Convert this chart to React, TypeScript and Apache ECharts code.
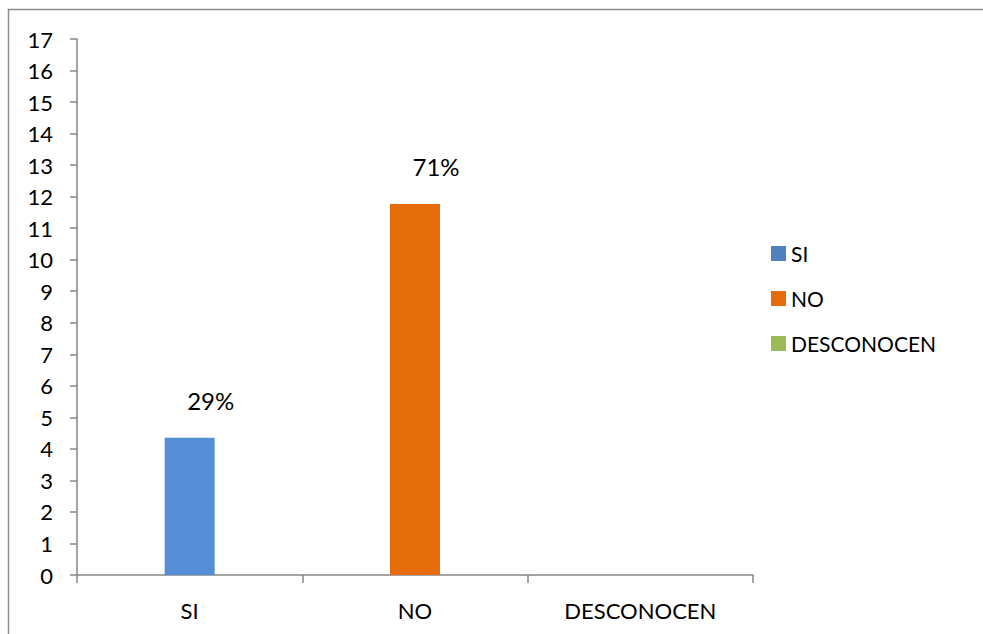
import React, { useEffect, useRef } from "react";
import * as echarts from "echarts";

// Categories and values of the survey answers
const categories = ["SI", "NO", "DESCONOCEN"];
const counts = [4.35, 11.77, 0];
const percentLabels = ["29%", "71%", ""];
const barColors = ["#558ED5", "#E46C0A", "#9BBB59"];
const legendColors = ["#4F81BD", "#E46C0A", "#9BBB59"];

const FONT = "Lato, 'Noto Sans', sans-serif";

export default function App() {
  const ref = useRef<HTMLDivElement>(null);

  useEffect(() => {
    if (!ref.current) return;
    const chart = echarts.init(ref.current, undefined, { renderer: "svg" });

    const series = categories.map((name, i) => ({
      name,
      type: "bar",
      stack: "total",
      barWidth: 50,
      data: categories.map((_, j) => (j === i ? counts[i] : "-")),
      itemStyle: { color: barColors[i] },
      label: {
        show: percentLabels[i] !== "",
        position: "top",
        distance: 5,
        offset: [21, -20],
        formatter: () => percentLabels[i],
        color: "#000",
        fontFamily: FONT,
        fontSize: 24,
      },
    }));

    chart.setOption({
      animation: false,
      backgroundColor: "#fff",
      graphic: [
        {
          type: "rect",
          shape: { x: 8.5, y: 9.5, width: 1100, height: 800 },
          style: { fill: "none", stroke: "#8C8C8C", lineWidth: 1.5 },
          silent: true,
        },
      ],
      grid: { left: 77, top: 39, right: 230, bottom: 59, containLabel: false },
      legend: {
        orient: "vertical",
        left: 766,
        top: 238,
        itemWidth: 15,
        itemHeight: 15,
        itemGap: 24,
        icon: "rect",
        textStyle: { fontFamily: FONT, fontSize: 21, color: "#000" },
        data: categories.map((name, i) => ({
          name,
          itemStyle: { color: legendColors[i] },
        })),
      },
      xAxis: {
        type: "category",
        data: categories,
        axisLine: { lineStyle: { color: "#868686", width: 1.5 } },
        axisTick: { show: true, length: 8, lineStyle: { color: "#868686", width: 1.5 } },
        axisLabel: { color: "#000", fontFamily: FONT, fontSize: 22, margin: 24 },
      },
      yAxis: {
        type: "value",
        min: 0,
        max: 17,
        interval: 1,
        splitLine: { show: false },
        axisLine: { show: true, lineStyle: { color: "#868686", width: 1.5 } },
        axisTick: { show: true, length: 7, lineStyle: { color: "#868686", width: 1.5 } },
        axisLabel: { color: "#000", fontFamily: FONT, fontSize: 22, margin: 24 },
      },
      series,
    });

    return () => chart.dispose();
  }, []);

  return (
    <div
      ref={ref}
      style={{ position: "fixed", left: 0, top: 0, width: 983, height: 634 }}
    />
  );
}
